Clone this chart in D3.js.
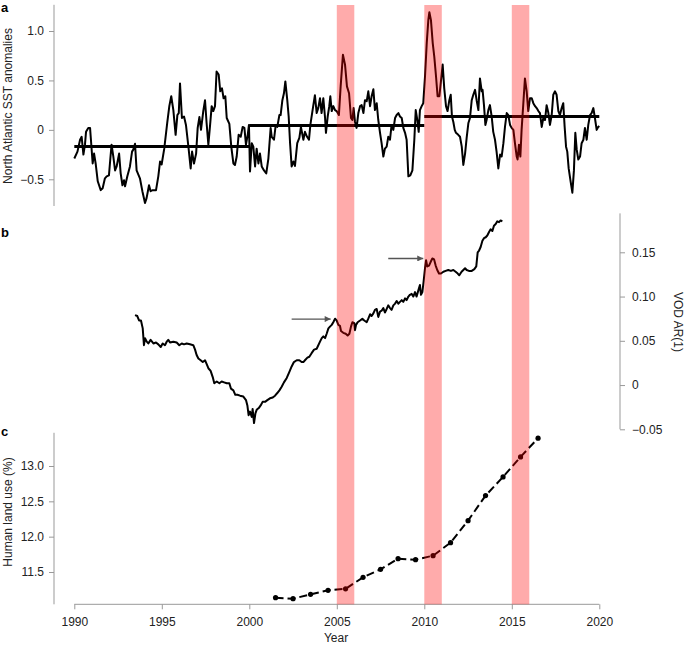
<!DOCTYPE html>
<html>
<head>
<meta charset="utf-8">
<script src="https://cdn.jsdelivr.net/npm/d3@7"></script>
<style>
  body { margin: 0; background: #fff; }
  text { font-family: "Liberation Sans", Arial, sans-serif; }
</style>
</head>
<body>
<svg id="chart" width="685" height="645"></svg>
<script>
// panel a: North Atlantic SST anomalies
const sstYear = [
  1990.0, 1990.18, 1990.33, 1990.42, 1990.52, 1990.61, 1990.67, 1990.8, 1990.9, 1990.95,
  1991.05, 1991.13, 1991.22, 1991.34, 1991.51, 1991.62, 1991.75, 1991.85, 1991.98, 1992.06,
  1992.13, 1992.23, 1992.33, 1992.42, 1992.56, 1992.65, 1992.75, 1992.84, 1992.9, 1993.03,
  1993.18, 1993.3, 1993.37, 1993.47, 1993.56, 1993.75, 1993.89, 1994.04, 1994.13, 1994.27,
  1994.36, 1994.48, 1994.67, 1994.8, 1994.9, 1994.99, 1995.14, 1995.31, 1995.43, 1995.54,
  1995.66, 1995.79, 1995.89, 1995.97, 1996.04, 1996.15, 1996.27, 1996.38, 1996.52, 1996.65,
  1996.73, 1996.84, 1996.96, 1997.05, 1997.15, 1997.24, 1997.37, 1997.47, 1997.56, 1997.66,
  1997.75, 1997.85, 1997.94, 1998.04, 1998.13, 1998.25, 1998.34, 1998.44, 1998.53, 1998.63,
  1998.71, 1998.86, 1998.97, 1999.09, 1999.18, 1999.28, 1999.39, 1999.51, 1999.62, 1999.72,
  1999.81, 1999.91, 1999.98,
  2000.04, 2000.14, 2000.23, 2000.33, 2000.42, 2000.52, 2000.61, 2000.71, 2000.84, 2000.97,
  2001.09, 2001.22, 2001.28, 2001.41, 2001.51, 2001.6, 2001.72, 2001.79, 2001.89, 2001.98,
  2002.06, 2002.17, 2002.25, 2002.33, 2002.42, 2002.52, 2002.61, 2002.74, 2002.86, 2002.95,
  2003.09, 2003.18, 2003.3, 2003.41, 2003.49, 2003.56, 2003.66, 2003.75, 2003.85, 2003.94,
  2004.04, 2004.13, 2004.23, 2004.33, 2004.38, 2004.48, 2004.57, 2004.63, 2004.71, 2004.8,
  2004.9, 2004.99, 2005.12, 2005.22, 2005.35, 2005.47, 2005.58, 2005.7, 2005.81, 2005.89,
  2005.96, 2006.04, 2006.13, 2006.23, 2006.33, 2006.42, 2006.52, 2006.61, 2006.71, 2006.8,
  2006.9, 2006.99, 2007.09, 2007.18, 2007.28, 2007.37, 2007.47, 2007.56, 2007.66, 2007.75,
  2007.85, 2007.94, 2008.04, 2008.13, 2008.23, 2008.33, 2008.42, 2008.52, 2008.61, 2008.71,
  2008.8, 2008.9, 2008.99, 2009.09, 2009.2, 2009.32, 2009.43, 2009.51, 2009.6, 2009.68,
  2009.75, 2009.85, 2009.94,
  2010.04, 2010.14, 2010.23, 2010.29, 2010.38, 2010.48, 2010.57, 2010.67, 2010.76, 2010.86,
  2010.95, 2011.05, 2011.14, 2011.24, 2011.33, 2011.43, 2011.51, 2011.58, 2011.66, 2011.74,
  2011.81, 2011.94, 2012.04, 2012.14, 2012.23, 2012.33, 2012.42, 2012.52, 2012.61, 2012.71,
  2012.8, 2012.9, 2012.99, 2013.09, 2013.18, 2013.28, 2013.33, 2013.41, 2013.49, 2013.56,
  2013.66, 2013.75, 2013.85, 2013.94, 2014.04, 2014.13, 2014.23, 2014.33, 2014.42, 2014.52,
  2014.61, 2014.71, 2014.8, 2014.9, 2014.99, 2015.09, 2015.18, 2015.28, 2015.33, 2015.41,
  2015.49, 2015.56, 2015.66, 2015.75, 2015.85, 2015.94, 2016.04, 2016.14, 2016.23, 2016.33,
  2016.42, 2016.52, 2016.61, 2016.71, 2016.8, 2016.9, 2016.99, 2017.09, 2017.18, 2017.28,
  2017.37, 2017.47, 2017.56, 2017.66, 2017.75, 2017.85, 2017.94, 2018.02, 2018.1, 2018.17,
  2018.25, 2018.36, 2018.46, 2018.55, 2018.63, 2018.71, 2018.8, 2018.9, 2018.99, 2019.09,
  2019.18, 2019.28, 2019.37, 2019.47, 2019.56, 2019.66, 2019.75, 2019.85, 2019.94, 2020.0
];
const sstValue = [
  -0.29, -0.22, -0.10, -0.07, -0.25, -0.15, -0.02, 0.02, 0.02, -0.10,
  -0.34, -0.24, -0.34, -0.52, -0.61, -0.59, -0.49, -0.47, -0.46, -0.29,
  -0.15, -0.27, -0.41, -0.37, -0.24, -0.44, -0.56, -0.51, -0.57, -0.47,
  -0.37, -0.22, -0.20, -0.14, -0.41, -0.49, -0.62, -0.74, -0.69, -0.56,
  -0.62, -0.61, -0.61, -0.47, -0.32, -0.35, -0.19, 0.07, 0.24, 0.34,
  0.20, -0.05, 0.15, 0.17, 0.47, 0.12, 0.135, 0.05, -0.17, -0.39,
  -0.22, -0.34, -0.24, 0.02, 0.13, 0.0, 0.19, 0.30, 0.07, -0.15,
  0.03, 0.24, 0.19, 0.24, 0.59, 0.56, 0.39, 0.42, 0.32, 0.34,
  0.12, 0.06, -0.17, -0.34, -0.355, -0.27, -0.05, -0.07, 0.03, 0.02,
  -0.15, -0.05, 0.05,
  -0.42, -0.135, -0.17, -0.37, -0.19, -0.34, -0.24, -0.37, -0.41, -0.44,
  -0.29, 0.02, -0.07, -0.10, 0.05, 0.03, 0.15, 0.15, 0.30, 0.37,
  0.49, 0.30, 0.135, -0.135, -0.37, -0.32, -0.365, -0.135, -0.08, 0.03,
  -0.10, -0.02, -0.07, -0.10, 0.05, 0.135, 0.25, 0.35, 0.17, 0.22,
  0.32, 0.17, 0.32, 0.12, -0.03, 0.135, 0.24, 0.34, 0.19, 0.24,
  0.20, 0.19, 0.15, 0.44, 0.76, 0.66, 0.44, 0.37, 0.12, 0.10,
  0.22, 0.08, 0.02, 0.17, 0.24, 0.25, 0.17, 0.30, 0.29, 0.39,
  0.24, 0.34, 0.41, 0.20, 0.27, 0.10, -0.03, -0.135, -0.27, -0.19,
  -0.17, -0.07, -0.10, 0.05, 0.0, 0.12, 0.15, 0.17, 0.135, 0.12,
  0.02, -0.03, -0.10, -0.47, -0.46, -0.41, -0.10, 0.20, 0.10, -0.02,
  0.20, 0.24, 0.27,
  0.54, 0.88, 1.11, 1.19, 1.11, 0.88, 0.74, 0.54, 0.34, 0.34,
  0.49, 0.66, 0.42, 0.24, 0.19, 0.30, 0.355, 0.135, 0.08, 0.0,
  -0.03, -0.05, -0.07, -0.17, -0.355, -0.24, -0.08, 0.07, 0.12, 0.30,
  0.355, 0.405, 0.30, 0.20, 0.52, 0.39, 0.405, 0.25, 0.05, 0.10,
  0.20, 0.25, 0.135, -0.02, -0.10, -0.22, -0.39, -0.25, -0.27, -0.135,
  0.03, 0.17, 0.15, 0.05, 0.02, 0.0, -0.135, -0.27, -0.30, -0.15,
  -0.27, 0.0, 0.27, 0.52, 0.39, 0.19, 0.32, 0.32, 0.27, 0.24,
  0.22, 0.19, 0.17, 0.03, 0.12, 0.10, 0.25, 0.17, 0.05, 0.15,
  0.355, 0.39, 0.355, 0.19, 0.15, 0.22, 0.27, 0.03, -0.17, -0.22,
  -0.39, -0.52, -0.635, -0.41, -0.03, -0.20, -0.30, -0.27, -0.135, -0.10,
  0.02, -0.10, 0.05, 0.15, 0.17, 0.22, 0.12, 0.0, 0.03, 0.04
];
const sstMeanStart = [1990, 2000, 2010];
const sstMeanEnd = [2000, 2010, 2020];
const sstMeanValue = [-0.168, 0.045, 0.136];

// panel b: VOD AR(1)
const vodYear = [
  1993.47, 1993.6, 1993.7, 1993.81, 1993.91, 1993.98, 1994.04, 1994.14, 1994.23, 1994.36,
  1994.52, 1994.67, 1994.8, 1994.94, 1995.05, 1995.18, 1995.28, 1995.37, 1995.47, 1995.66,
  1995.85, 1996.0, 1996.14, 1996.27, 1996.42, 1996.61, 1996.8, 1996.9, 1996.99, 1997.09,
  1997.22, 1997.34, 1997.47, 1997.56, 1997.66, 1997.79, 1997.91, 1998.0, 1998.14, 1998.29,
  1998.42, 1998.56, 1998.71, 1998.86, 1998.95, 1999.09, 1999.2, 1999.32, 1999.47, 1999.66,
  1999.81, 1999.89, 1999.96, 2000.04, 2000.14, 2000.19, 2000.27, 2000.35, 2000.42, 2000.54,
  2000.65, 2000.76, 2000.9, 2001.03, 2001.18, 2001.34, 2001.47, 2001.6, 2001.72, 2001.85,
  2001.98, 2002.14, 2002.29, 2002.42, 2002.55, 2002.71, 2002.86, 2002.99, 2003.09, 2003.18,
  2003.32, 2003.43, 2003.56, 2003.7, 2003.85,
  2004.04, 2004.14, 2004.23, 2004.33, 2004.42, 2004.52, 2004.61, 2004.71, 2004.8, 2004.9,
  2004.99, 2005.09, 2005.18, 2005.24, 2005.37, 2005.51, 2005.62, 2005.72, 2005.81, 2005.89,
  2006.0, 2006.04, 2006.1, 2006.19, 2006.33, 2006.46, 2006.57, 2006.71, 2006.8, 2006.9,
  2006.99, 2007.09, 2007.18, 2007.28, 2007.37, 2007.47, 2007.56, 2007.66, 2007.75, 2007.85,
  2007.94, 2008.04, 2008.13, 2008.23, 2008.33, 2008.42, 2008.52, 2008.61, 2008.71, 2008.8,
  2008.9, 2008.99, 2009.09, 2009.18, 2009.28, 2009.37, 2009.47, 2009.56, 2009.66, 2009.75,
  2009.81, 2009.89, 2009.96, 2010.04, 2010.1, 2010.17, 2010.27, 2010.36, 2010.46, 2010.56,
  2010.65, 2010.74, 2010.84, 2010.95, 2011.09, 2011.22, 2011.37, 2011.52, 2011.66, 2011.79,
  2011.91, 2012.0, 2012.13, 2012.23, 2012.33, 2012.42, 2012.55, 2012.71, 2012.86, 2012.97,
  2013.05, 2013.13, 2013.22, 2013.32, 2013.41, 2013.51, 2013.6, 2013.7, 2013.79, 2013.89,
  2013.98, 2014.08, 2014.17, 2014.27, 2014.36, 2014.46
];
const vodValue = [
  0.079, 0.078, 0.073, 0.073, 0.064, 0.045, 0.053, 0.049, 0.047, 0.051,
  0.047, 0.048, 0.046, 0.043, 0.047, 0.045, 0.049, 0.051, 0.048, 0.049,
  0.048, 0.045, 0.047, 0.046, 0.047, 0.046, 0.045, 0.040, 0.034, 0.030,
  0.028, 0.026, 0.028, 0.024, 0.019, 0.016, 0.009, 0.002, 0.004, 0.002,
  0.004, 0.003, 0.002, 0.002, -0.004, -0.006, -0.011, -0.011, -0.012, -0.013,
  -0.017, -0.023, -0.034, -0.030, -0.036, -0.027, -0.043, -0.032, -0.028, -0.026,
  -0.023, -0.019, -0.019, -0.017, -0.015, -0.014, -0.012, -0.009, -0.006, -0.002,
  0.003, 0.008, 0.015, 0.021, 0.026, 0.028, 0.028, 0.026, 0.026, 0.028,
  0.031, 0.032, 0.036, 0.040, 0.041,
  0.049, 0.053, 0.055, 0.053, 0.058, 0.064, 0.066, 0.068, 0.071, 0.075,
  0.073, 0.068, 0.067, 0.061, 0.059, 0.058, 0.056, 0.058, 0.066, 0.071,
  0.070, 0.062, 0.068, 0.071, 0.073, 0.075, 0.073, 0.071, 0.075, 0.080,
  0.078, 0.081, 0.085, 0.086, 0.077, 0.083, 0.084, 0.087, 0.082, 0.086,
  0.090, 0.087, 0.085, 0.090, 0.092, 0.095, 0.092, 0.094, 0.096, 0.094,
  0.098, 0.096, 0.100, 0.102, 0.103, 0.100, 0.105, 0.100, 0.107, 0.113,
  0.102, 0.105, 0.117, 0.132, 0.141, 0.134, 0.135, 0.139, 0.143, 0.142,
  0.135, 0.130, 0.126, 0.126, 0.128, 0.129, 0.130, 0.129, 0.130, 0.128,
  0.126, 0.124, 0.128, 0.130, 0.132, 0.130, 0.129, 0.129, 0.131, 0.134,
  0.150, 0.152, 0.156, 0.163, 0.166, 0.167, 0.169, 0.173, 0.176, 0.174,
  0.180, 0.182, 0.185, 0.184, 0.186, 0.185
];

// panel c: human land use (%)
const landYear = [2001.5, 2002.5, 2003.5, 2004.5, 2005.5, 2006.5, 2007.5, 2008.5,
                  2009.5, 2010.5, 2011.5, 2012.5, 2013.5, 2014.5, 2015.5, 2016.5];
const landValue = [11.136, 11.122, 11.184, 11.241, 11.262, 11.425, 11.538, 11.688,
                   11.674, 11.731, 11.915, 12.227, 12.581, 12.846, 13.129, 13.394];

// red bands (El Nino years) and arrows in panel b
const bandStart = [2005, 2010, 2015];
const bandEnd = [2006, 2011, 2016];
const arrowFrom = [2002.42, 2007.94];
const arrowTo = [2004.65, 2009.94];
const arrowValue = [0.0745, 0.143];

const yearTicks = [1990, 1995, 2000, 2005, 2010, 2015, 2020];
const sstTicks = [-0.5, 0, 0.5, 1.0];
const sstLabels = ['\u22120.5', '0', '0.5', '1.0'];
const vodTicks = [-0.05, 0, 0.05, 0.10, 0.15];
const vodLabels = ['\u22120.05', '0', '0.05', '0.10', '0.15'];
const landTicks = [11.5, 12.0, 12.5, 13.0];
const landLabels = ['11.5', '12.0', '12.5', '13.0'];

const svg = d3.select('#chart');
const axisColor = '#999';
const textColor = '#222';

const x = d3.scaleLinear().domain([1990, 2020]).range([74.3, 599.3]);
const ya = d3.scaleLinear().domain([-0.5, 1.0]).range([179.3, 31]);
const yb = d3.scaleLinear().domain([-0.05, 0.15]).range([429.3, 252.3]);
const yc = d3.scaleLinear().domain([11.5, 13.0]).range([572, 466]);

function styleAxis(g) {
  g.select('.domain').remove();
  g.selectAll('.tick line').attr('stroke', axisColor);
  g.selectAll('.tick text').attr('fill', textColor).style('font-size', '12px')
    .style('font-family', '"Liberation Sans", Arial, sans-serif');
}

// axes for panel a
svg.append('line')
  .attr('x1', 54).attr('x2', 54)
  .attr('y1', ya(1.265)).attr('y2', ya(-0.77))
  .attr('stroke', axisColor);
svg.append('g')
  .attr('transform', 'translate(54,0)')
  .call(d3.axisLeft(ya).tickValues(sstTicks).tickSize(5).tickPadding(5)
    .tickFormat((d, i) => sstLabels[i]))
  .call(styleAxis);

// right axis for panel b
svg.append('line')
  .attr('x1', 620).attr('x2', 620)
  .attr('y1', yb(0.194)).attr('y2', yb(-0.05))
  .attr('stroke', axisColor);
svg.append('g')
  .attr('transform', 'translate(620,0)')
  .call(d3.axisRight(yb).tickValues(vodTicks).tickSize(5).tickPadding(7)
    .tickFormat((d, i) => vodLabels[i]))
  .call(styleAxis);

// axes for panel c
svg.append('line')
  .attr('x1', 54).attr('x2', 54)
  .attr('y1', yc(13.47)).attr('y2', 604.3)
  .attr('stroke', axisColor);
svg.append('g')
  .attr('transform', 'translate(54,0)')
  .call(d3.axisLeft(yc).tickValues(landTicks).tickSize(5).tickPadding(5)
    .tickFormat((d, i) => landLabels[i]))
  .call(styleAxis);

svg.append('line')
  .attr('x1', x(1990)).attr('x2', x(2020))
  .attr('y1', 604.3).attr('y2', 604.3)
  .attr('stroke', axisColor);
svg.append('g')
  .attr('transform', 'translate(0,604.3)')
  .call(d3.axisBottom(x).tickValues(yearTicks).tickSize(5).tickPadding(8)
    .tickFormat(d3.format('d')))
  .call(styleAxis);

// titles
svg.append('text')
  .attr('transform', 'translate(8,106) rotate(-90)')
  .attr('text-anchor', 'middle').attr('dominant-baseline', 'central')
  .attr('fill', textColor).style('font-size', '12px')
  .text('North Atlantic SST anomalies');
svg.append('text')
  .attr('transform', 'translate(678,322) rotate(90)')
  .attr('text-anchor', 'middle').attr('dominant-baseline', 'central')
  .attr('fill', textColor).style('font-size', '12px')
  .text('VOD AR(1)');
svg.append('text')
  .attr('transform', 'translate(8,512) rotate(-90)')
  .attr('text-anchor', 'middle').attr('dominant-baseline', 'central')
  .attr('fill', textColor).style('font-size', '12px')
  .text('Human land use (%)');
svg.append('text')
  .attr('x', 336).attr('y', 642)
  .attr('text-anchor', 'middle')
  .attr('fill', textColor).style('font-size', '12px')
  .text('Year');

const panelLabels = [['a', 12], ['b', 237], ['c', 436]];
svg.selectAll('text.panel')
  .data(panelLabels)
  .enter().append('text')
  .attr('class', 'panel')
  .attr('x', 1).attr('y', d => d[1])
  .style('font-size', '13px').style('font-weight', 'bold')
  .text(d => d[0]);

// panel a lines
const sstLine = d3.line()
  .x((d, i) => x(sstYear[i]))
  .y(d => ya(d));
svg.append('path')
  .datum(sstValue)
  .attr('d', sstLine)
  .attr('fill', 'none')
  .attr('stroke', '#000')
  .attr('stroke-width', 2)
  .attr('stroke-linejoin', 'round');

svg.selectAll('line.mean')
  .data(sstMeanValue)
  .enter().append('line')
  .attr('class', 'mean')
  .attr('x1', (d, i) => x(sstMeanStart[i]))
  .attr('x2', (d, i) => x(sstMeanEnd[i]))
  .attr('y1', d => ya(d))
  .attr('y2', d => ya(d))
  .attr('stroke', '#000')
  .attr('stroke-width', 3);

// panel b line
const vodLine = d3.line()
  .x((d, i) => x(vodYear[i]))
  .y(d => yb(d));
svg.append('path')
  .datum(vodValue)
  .attr('d', vodLine)
  .attr('fill', 'none')
  .attr('stroke', '#000')
  .attr('stroke-width', 2)
  .attr('stroke-linejoin', 'round');

// panel c dashed line with dots
const landLine = d3.line()
  .x((d, i) => x(landYear[i]))
  .y(d => yc(d));
svg.append('path')
  .datum(landValue)
  .attr('d', landLine)
  .attr('fill', 'none')
  .attr('stroke', '#000')
  .attr('stroke-width', 2)
  .attr('stroke-dasharray', '8,4');
svg.selectAll('circle.land')
  .data(landValue)
  .enter().append('circle')
  .attr('class', 'land')
  .attr('cx', (d, i) => x(landYear[i]))
  .attr('cy', d => yc(d))
  .attr('r', 2.6)
  .attr('fill', '#000');

// red bands, drawn on top
svg.selectAll('rect.band')
  .data(bandStart)
  .enter().append('rect')
  .attr('class', 'band')
  .attr('x', d => x(d))
  .attr('width', (d, i) => x(bandEnd[i]) - x(d))
  .attr('y', 5)
  .attr('height', 604.3 - 5)
  .attr('fill', '#ff0000')
  .attr('fill-opacity', 0.33);

// arrows
svg.append('defs').append('marker')
  .attr('id', 'head')
  .attr('viewBox', '0 0 10 10')
  .attr('refX', 10).attr('refY', 5)
  .attr('markerWidth', 7).attr('markerHeight', 6)
  .attr('markerUnits', 'userSpaceOnUse')
  .attr('orient', 'auto')
  .append('path')
  .attr('d', 'M0,0L10,5L0,10Z')
  .attr('fill', '#555');

svg.selectAll('line.arrow')
  .data(arrowValue)
  .enter().append('line')
  .attr('class', 'arrow')
  .attr('x1', (d, i) => x(arrowFrom[i]))
  .attr('x2', (d, i) => x(arrowTo[i]))
  .attr('y1', d => yb(d))
  .attr('y2', d => yb(d))
  .attr('stroke', '#555')
  .attr('stroke-width', 1.3)
  .attr('marker-end', 'url(#head)');
</script>
</body>
</html>
